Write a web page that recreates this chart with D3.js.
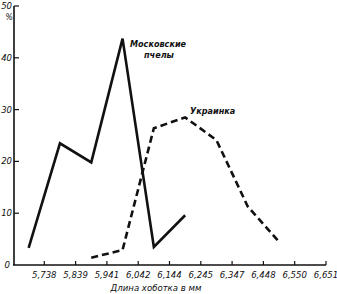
<!DOCTYPE html>
<html>
<head>
<meta charset="utf-8">
<script src="https://cdn.jsdelivr.net/npm/d3@7"></script>
<style>
body { margin: 0; background: #fff; }
text { font-family: "Liberation Sans Narrow", "DejaVu Sans Condensed", sans-serif; font-style: italic; fill: #111; }
</style>
</head>
<body>
<script>
var width = 337;
var height = 294;

// interval boundaries for proboscis length, mm
var xTickLabels = ["5,738", "5,839", "5,941", "6,042", "6,144", "6,245", "6,347", "6,448", "6,550", "6,651"];
var yTicks = [0, 10, 20, 30, 40, 50];

// values are % per interval; index = interval number (midpoint = index + 0.5)
var moscowIdx = [0, 1, 2, 3, 4, 5];
var moscowVals = [3.3, 23.5, 19.8, 43.7, 3.5, 9.6];
var ukrIdx = [2, 3, 4, 5, 6, 7, 8];
var ukrVals = [1.4, 2.9, 26.4, 28.5, 24.1, 11.3, 4.5];

var svg = d3.select("body").append("svg")
    .attr("width", width)
    .attr("height", height);

var x = d3.scaleLinear().domain([0, 10]).range([13, 326]);
var y = d3.scaleLinear().domain([0, 50]).range([265, 6]);

var ink = "#111";

// axes
svg.append("line")
    .attr("x1", x(0)).attr("x2", x(10))
    .attr("y1", y(0)).attr("y2", y(0))
    .attr("stroke", ink).attr("stroke-width", 1.6);
svg.append("line")
    .attr("x1", 14).attr("x2", 14)
    .attr("y1", y(0)).attr("y2", y(50))
    .attr("stroke", ink).attr("stroke-width", 1.6);

svg.selectAll(".xt").data(xTickLabels).enter().append("line")
    .attr("x1", function(d, i) { return x(i + 1); })
    .attr("x2", function(d, i) { return x(i + 1); })
    .attr("y1", y(0)).attr("y2", y(0) - 4)
    .attr("stroke", ink).attr("stroke-width", 1.2);

svg.selectAll(".xl").data(xTickLabels).enter().append("text")
    .attr("x", function(d, i) { return x(i + 1); })
    .attr("y", 278)
    .attr("text-anchor", "middle")
    .attr("font-size", 9.5)
    .text(function(d) { return d; });

svg.selectAll(".yt").data(yTicks.slice(1)).enter().append("line")
    .attr("x1", 14).attr("x2", 19)
    .attr("y1", function(d) { return y(d); })
    .attr("y2", function(d) { return y(d); })
    .attr("stroke", ink).attr("stroke-width", 1.2);

svg.selectAll(".yl").data(yTicks).enter().append("text")
    .attr("x", function(d) { return d === 0 ? 10 : 12; })
    .attr("y", function(d) { return y(d) + 3; })
    .attr("text-anchor", "end")
    .attr("font-size", 9.5)
    .text(function(d) { return d; });

svg.append("text")
    .attr("x", 9).attr("y", 20)
    .attr("text-anchor", "middle")
    .attr("font-size", 9)
    .text("%");

svg.append("text")
    .attr("x", 156).attr("y", 291)
    .attr("text-anchor", "middle")
    .attr("font-size", 9.5)
    .text("Длина хоботка в мм");

// series
var line = d3.line()
    .x(function(d) { return x(d[0] + 0.5); })
    .y(function(d) { return y(d[1]); });

svg.append("path")
    .datum(d3.zip(moscowIdx, moscowVals))
    .attr("d", line)
    .attr("fill", "none")
    .attr("stroke", ink)
    .attr("stroke-width", 2.6)
    .attr("stroke-linejoin", "miter");

svg.append("path")
    .datum(d3.zip(ukrIdx, ukrVals))
    .attr("d", line)
    .attr("fill", "none")
    .attr("stroke", ink)
    .attr("stroke-width", 2.6)
    .attr("stroke-dasharray", "7,4");

// labels
svg.append("text")
    .attr("x", 130).attr("y", 47)
    .attr("font-size", 9)
    .attr("font-weight", "bold")
    .text("Московские");
svg.append("text")
    .attr("x", 144).attr("y", 58)
    .attr("font-size", 9)
    .attr("font-weight", "bold")
    .text("пчелы");
svg.append("text")
    .attr("x", 190).attr("y", 114)
    .attr("font-size", 9)
    .attr("font-weight", "bold")
    .text("Украинка");
</script>
</body>
</html>
